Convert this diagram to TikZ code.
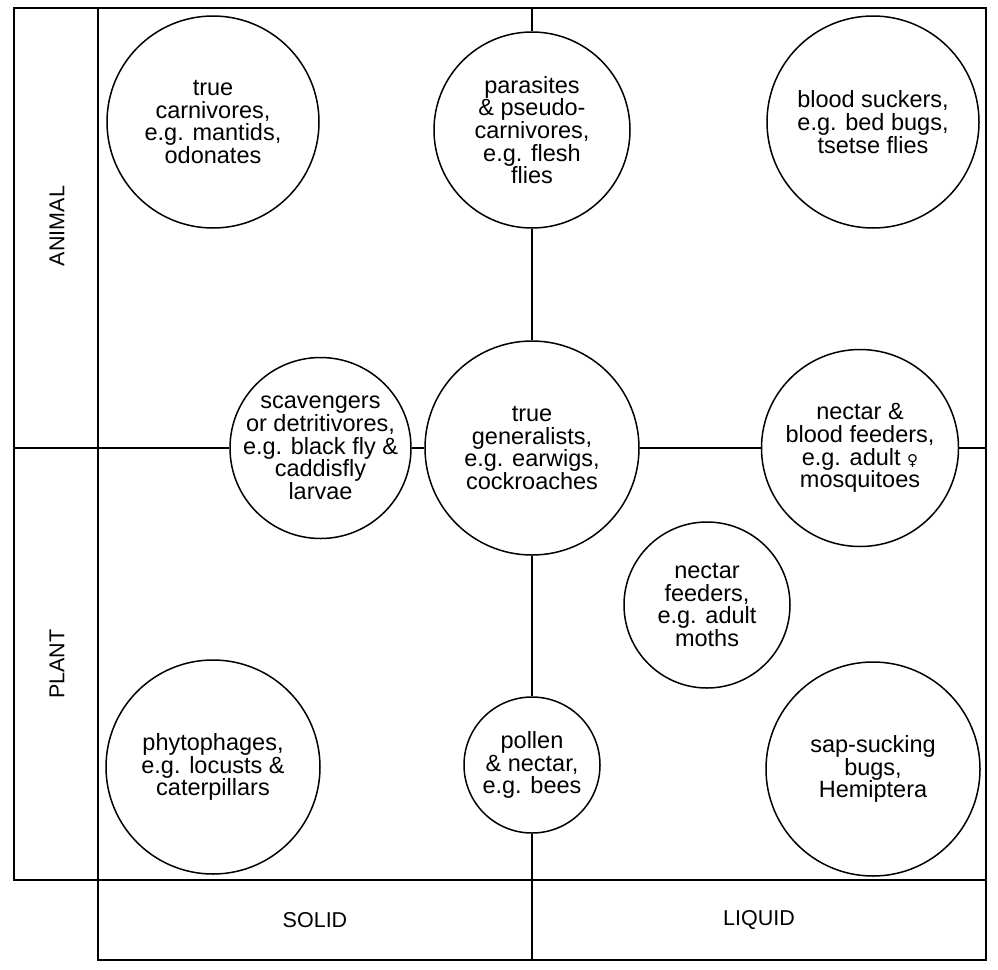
\documentclass[tikz,border=0pt]{standalone}
\usepackage{fontspec}
\setmainfont{Liberation Sans}
\newfontfamily\symfont{DejaVu Sans}
\begin{document}
\begin{tikzpicture}[x=1pt,y=-1pt,
  frame/.style={draw=black,line width=1.5pt},
  bubble/.style={draw=black,line width=1.5pt,circle,inner sep=0pt,fill=white},
  txt/.style={align=center,inner sep=0pt,font=\fontsize{23.5}{22.7}\selectfont},
  axis/.style={inner sep=0pt,font=\fontsize{21.5}{22}\selectfont},
  conn/.style={draw=black,line width=1.5pt}]
\useasboundingbox (0,0) rectangle (998,969);
% frame
\draw[frame] (14,8) rectangle (98,880);
\draw[frame] (98,8) rectangle (986,880);
\draw[frame] (98,880) rectangle (986,960);
% end points of the axes
\coordinate (hl) at (14,448);
\coordinate (hr) at (986,448);
\coordinate (vt) at (532,8);
\coordinate (vb) at (532,960);
% circles
\node[bubble,minimum size=212pt] (carn) at (213,122) {};
\node[bubble,minimum size=196pt] (par) at (532,130) {};
\node[bubble,minimum size=212pt] (blood) at (873,122) {};
\node[bubble,minimum size=181pt] (scav) at (320.5,448) {};
\node[bubble,minimum size=214pt] (gen) at (532,448) {};
\node[bubble,minimum size=197pt] (nbf) at (860,448) {};
\node[bubble,minimum size=166pt] (moth) at (707,605) {};
\node[bubble,minimum size=214pt] (phyto) at (213,767) {};
\node[bubble,minimum size=136pt] (pol) at (532,765) {};
\node[bubble,minimum size=214pt] (sap) at (873,769) {};
% connectors
\draw[conn] (hl) -- (scav.west);
\draw[conn] (scav.east) -- (gen.west);
\draw[conn] (gen.east) -- (nbf.west);
\draw[conn] (nbf.east) -- (hr);
\draw[conn] (vt) -- (par.north);
\draw[conn] (par.south) -- (gen.north);
\draw[conn] (gen.south) -- (pol.north);
\draw[conn] (pol.south) -- (vb);
% texts
\node[txt] (tcarn) at (carn) {true\\carnivores,\\e.g. mantids,\\odonates};
\node[txt] (tpar) at (par) {parasites\\\& pseudo-\\carnivores,\\e.g. flesh\\flies};
\node[txt] (tblood) at (blood) {blood suckers,\\e.g. bed bugs,\\tsetse flies};
\node[txt] (tscav) at (scav) {scavengers\\or detritivores,\\e.g. black fly \&\\caddisfly\\larvae};
\node[txt] (tgen) at (gen) {true\\generalists,\\e.g. earwigs,\\cockroaches};
\node[txt] (tnbf) at (nbf) {nectar \&\\blood feeders,\\e.g. adult {\symfont\fontsize{15}{15}\selectfont ♀}\\mosquitoes};
\node[txt] (tmoth) at (moth) {nectar\\feeders,\\e.g. adult\\moths};
\node[txt] (tphyto) at (phyto) {phytophages,\\e.g. locusts \&\\caterpillars};
\node[txt] (tpol) at (pol) {pollen\\\& nectar,\\e.g. bees};
\node[txt] (tsap) at (sap) {sap-sucking\\bugs,\\Hemiptera};
% axis labels
\node[axis,rotate=90] (lanimal) at (57,226) {ANIMAL};
\node[axis,rotate=90] (lplant) at (57,664) {PLANT};
\node[axis] (lsolid) at (315,920) {SOLID};
\node[axis] (lliquid) at (759,920) {LIQUID};
\end{tikzpicture}
\end{document}
